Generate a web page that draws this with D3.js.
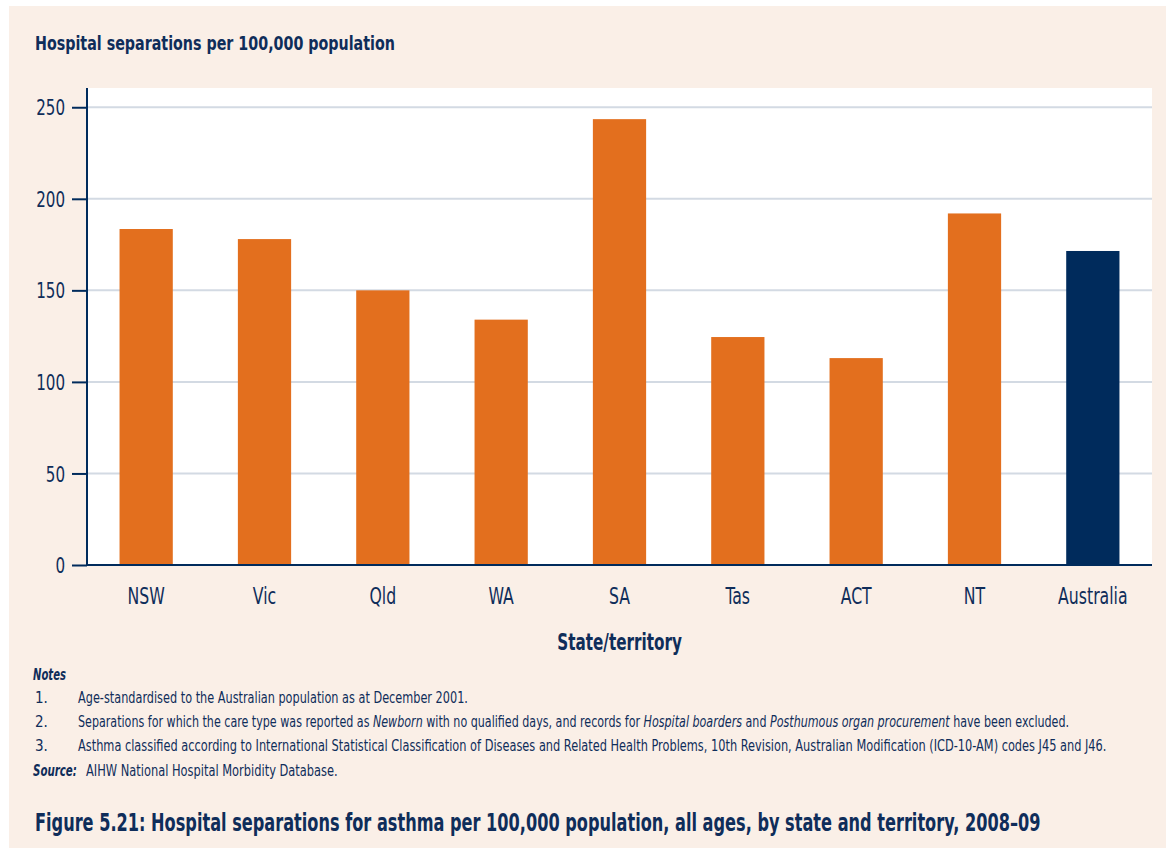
<!DOCTYPE html>
<html><head><meta charset="utf-8">
<script src="https://cdn.jsdelivr.net/npm/d3@7"></script>
<style>
html,body{margin:0;padding:0;background:#fff;}
svg{display:block;}
text{font-family:"DejaVu Sans Condensed","DejaVu Sans",sans-serif;font-stretch:condensed;fill:#0F2D5A;}
</style></head>
<body>
<svg id="chart" width="1166" height="854"></svg>
<script>
const categories = ["NSW","Vic","Qld","WA","SA","Tas","ACT","NT","Australia"];
const values = [183.5, 178, 150, 134, 243.5, 124.5, 113, 192, 171.5];
const yTicks = [0, 50, 100, 150, 200, 250];
const chartTitle = "Hospital separations per 100,000 population";
const xTitle = "State/territory";
const notes = [
  ["1.", [["Age-standardised to the Australian population as at December 2001.", false]]],
  ["2.", [["Separations for which the care type was reported as ", false], ["Newborn", true], [" with no qualified days, and records for ", false], ["Hospital boarders", true], [" and ", false], ["Posthumous organ procurement", true], [" have been excluded.", false]]],
  ["3.", [["Asthma classified according to International Statistical Classification of Diseases and Related Health Problems, 10th Revision, Australian Modification (ICD-10-AM) codes J45 and J46.", false]]]
];
const sourceText = "AIHW National Hospital Morbidity Database.";
const figureCaption = "Figure 5.21: Hospital separations for asthma per 100,000 population, all ages, by state and territory, 2008–09";

const svg = d3.select("#chart");
const navy = "#002B5C", orange = "#E36F1E", ink = "#0F2D5A";

function fitWidth(sel, target){
  const node = sel.node();
  const w = node.getBBox().width;
  if (w > 0) {
    const x0 = +sel.attr("x") || 0;
    const k = target / w;
    sel.attr("transform", `translate(${x0*(1-k)},0) scale(${k},1)`);
  }
}
function squeeze(sel, k){
  sel.each(function(){
    const t = d3.select(this);
    const bb = this.getBBox();
    const cx = bb.x + bb.width/2;
    t.attr("transform", `translate(${cx*(1-k)},0) scale(${k},1)`);
  });
}

svg.append("rect").attr("x",9).attr("y",6).attr("width",1157).attr("height",842).attr("fill","#FAEFE7");

const m = {left:87, right:1152, top:88, bottom:565};
svg.append("rect").attr("x",m.left).attr("y",m.top).attr("width",m.right-m.left).attr("height",m.bottom-m.top).attr("fill","#fff");

const x = d3.scaleBand().domain(categories).range([m.left, m.right]).paddingInner(0.55).paddingOuter(0.275);
const y = d3.scaleLinear().domain([0,260.5]).range([m.bottom, m.bottom - 260.5*1.831]);

svg.append("g").selectAll("line").data(yTicks.filter(d=>d>0)).join("line")
  .attr("x1",m.left).attr("x2",m.right).attr("y1",d=>y(d)).attr("y2",d=>y(d))
  .attr("stroke","#D3DAE3").attr("stroke-width",2);

svg.append("g").selectAll("rect").data(categories).join("rect")
  .attr("x",d=>x(d)).attr("width",x.bandwidth())
  .attr("y",(d,i)=>y(values[i])).attr("height",(d,i)=>y(0)-y(values[i]))
  .attr("fill",d=>d==="Australia"?navy:orange);

const yAxis = svg.append("g").attr("transform",`translate(${m.left},0)`)
  .call(d3.axisLeft(y).tickValues(yTicks).tickSize(15).tickPadding(7));
yAxis.attr("font-family",null);
yAxis.select(".domain").attr("d",`M0,${m.top}V${m.bottom}`).attr("stroke",navy).attr("stroke-width",2);
yAxis.selectAll(".tick line").attr("stroke",navy).attr("stroke-width",2);
yAxis.selectAll(".tick text").attr("font-size",21).attr("fill",ink).attr("dy","0.36em");
yAxis.selectAll(".tick text").each(function(){
  const t = d3.select(this); const bb = this.getBBox(); const k = 0.8; const rx = bb.x + bb.width;
  t.attr("transform", `translate(${rx*(1-k)},0) scale(${k},1)`);
});

const xAxis = svg.append("g").attr("transform",`translate(0,${m.bottom})`)
  .call(d3.axisBottom(x).tickSize(0).tickPadding(23));
xAxis.attr("font-family",null);
xAxis.select(".domain").attr("d",`M${m.left},0H${m.right}`).attr("stroke",navy).attr("stroke-width",2);
xAxis.selectAll(".tick text").attr("font-size",23).attr("fill",ink);
squeeze(xAxis.selectAll(".tick text"), 0.76);

const tt = svg.append("text").attr("x",35).attr("y",50).attr("font-size",20).attr("font-weight","bold").text(chartTitle);
fitWidth(tt, 360);
const xt = svg.append("text").attr("x",(m.left+m.right)/2).attr("y",650).attr("text-anchor","middle")
  .attr("font-size",23).attr("font-weight","bold").text(xTitle);
squeeze(xt, 125 / xt.node().getBBox().width);

const nt = svg.append("text").attr("x",33).attr("y",680).attr("font-size",15).attr("font-weight","bold").attr("font-style","italic").text("Notes");
fitWidth(nt, 33);
const noteWidths = [390, 992, 1029];
notes.forEach((n,i)=>{
  const yy = 703 + i*24;
  svg.append("text").attr("x",35).attr("y",yy).attr("font-size",15).text(n[0]);
  const t = svg.append("text").attr("x",78).attr("y",yy).attr("font-size",15);
  n[1].forEach(seg=>t.append("tspan").attr("font-style",seg[1]?"italic":"normal").text(seg[0]));
  fitWidth(t, noteWidths[i]);
});
const s1 = svg.append("text").attr("x",33).attr("y",776).attr("font-size",15).attr("font-weight","bold").attr("font-style","italic").text("Source:");
fitWidth(s1, 44);
const s2 = svg.append("text").attr("x",86).attr("y",776).attr("font-size",15).text(sourceText);
fitWidth(s2, 252);

const cap = svg.append("text").attr("x",35).attr("y",831).attr("font-size",24).attr("font-weight","bold").attr("fill","#0B2F5E").text(figureCaption);
fitWidth(cap, 1006);
</script>
</body></html>
